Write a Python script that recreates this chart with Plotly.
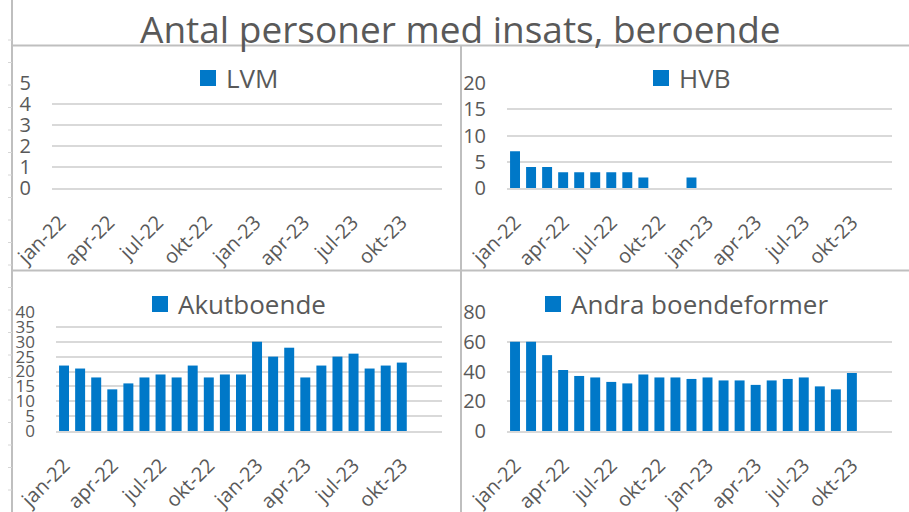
import plotly.graph_objects as go

W, H = 909, 512

months = ["jan-22", "feb-22", "mar-22", "apr-22", "maj-22", "jun-22", "jul-22", "aug-22",
          "sep-22", "okt-22", "nov-22", "dec-22", "jan-23", "feb-23", "mar-23", "apr-23",
          "maj-23", "jun-23", "jul-23", "aug-23", "sep-23", "okt-23", "nov-23", "dec-23"]
tick_labels = ["jan-22", "apr-22", "jul-22", "okt-22", "jan-23", "apr-23", "jul-23", "okt-23"]

lvm = [0] * 22
hvb = [7, 4, 4, 3, 3, 3, 3, 3, 2, 0, 0, 2, 0, 0, 0, 0, 0, 0, 0, 0, 0, 0]
akut = [22, 21, 18, 14, 16, 18, 19, 18, 22, 18, 19, 19, 30, 25, 28, 18, 22, 25, 26, 21, 22, 23]
andra = [60, 60, 51, 41, 37, 36, 33, 32, 38, 36, 36, 35, 36, 34, 34, 31, 34, 35, 36, 30, 28, 39]

title = "Antal personer med insats, beroende"
BLUE = "#0078c8"
TXT = "#595959"
GRID = "#d9d9d9"
FRAME = "#bfbfbf"

# panel definitions: name, values, y max, dtick, y tick font size, pixel box (x0,x1,ytop,ybottom)
panels = [
    ("LVM", lvm, 5, 1, 20, (52, 442, 83, 188)),
    ("HVB", hvb, 20, 5, 20, (507, 892, 83, 188)),
    ("Akutboende", akut, 40, 5, 17, (56, 442, 312, 431)),
    ("Andra boendeformer", andra, 80, 20, 20, (507, 892, 312, 431)),
]
legend_pos = [(200, 70), (653, 70), (152, 296), (545, 296)]

fig = go.Figure()
layout = {}
shapes = []
annotations = []
for i, (name, vals, ymax, dt, yfs, (x0, x1, yt, yb)) in enumerate(panels):
    k = "" if i == 0 else str(i + 1)
    fig.add_trace(go.Bar(x=months[:len(vals)], y=vals, marker=dict(color=BLUE, line=dict(width=0)),
                         xaxis="x" + k, yaxis="y" + k, showlegend=False, name=name))
    layout["xaxis" + k] = dict(
        domain=[x0 / W, x1 / W], anchor="y" + k, type="category",
        categoryorder="array", categoryarray=months, range=[-0.5, len(months) - 0.5],
        tickmode="array", tickvals=tick_labels, ticktext=tick_labels,
        tickangle=-45, tickfont=dict(family="Open Sans", size=20, color=TXT),
        showgrid=False, zeroline=False, showline=True, linecolor=GRID, linewidth=1.5,
        ticks="", ticklabelstandoff=13, automargin=False, fixedrange=True)
    layout["yaxis" + k] = dict(
        domain=[1 - yb / H, 1 - yt / H], anchor="x" + k, range=[0, ymax], dtick=dt,
        tickfont=dict(family="Open Sans", size=yfs, color=TXT), showgrid=True,
        gridcolor=GRID, gridwidth=1.5, zeroline=False, showline=False, ticks="",
        ticklabelstandoff=20, automargin=False, fixedrange=True)
    lx, ly = legend_pos[i]
    shapes.append(dict(type="rect", xref="paper", yref="paper", x0=lx / W, x1=(lx + 16) / W,
                       y0=1 - (ly + 16) / H, y1=1 - ly / H, fillcolor=BLUE, line=dict(width=0)))
    annotations.append(dict(text=name, xref="paper", yref="paper", x=(lx + 24) / W,
                            y=1 - (ly + 8) / H, xanchor="left", yanchor="middle", showarrow=False,
                            font=dict(family="Open Sans", size=26, color=TXT)))

# frame lines
def hline(y, xa, xb):
    shapes.append(dict(type="line", xref="paper", yref="paper", x0=xa / W, x1=xb / W,
                       y0=1 - y / H, y1=1 - y / H, line=dict(color=FRAME, width=2)))

def vline(x, ya, yb):
    shapes.append(dict(type="line", xref="paper", yref="paper", x0=x / W, x1=x / W,
                       y0=1 - ya / H, y1=1 - yb / H, line=dict(color=FRAME, width=2)))

vline(12, 0, H)
hline(45.5, 12, W)
vline(461, 45.5, H)
hline(270.5, 12, W)
r = 40
while r < H:
    shapes.append(dict(type="line", xref="paper", yref="paper", x0=8 / W, x1=12 / W,
                       y0=1 - r / H, y1=1 - r / H, line=dict(color="#d6d6d6", width=1)))
    r += 22.5

annotations.append(dict(text=title, xref="paper", yref="paper", x=461 / W, y=1 - 28 / H,
                        xanchor="center", yanchor="middle", showarrow=False,
                        font=dict(family="Open Sans", size=37, color=TXT)))

fig.update_layout(**layout)
fig.update_layout(width=W, height=H, margin=dict(l=0, r=0, t=0, b=0, autoexpand=False),
                  paper_bgcolor="white", plot_bgcolor="white", bargap=0.38,
                  shapes=shapes, annotations=annotations)
fig.write_html("out.html", config={"displayModeBar": False},
               post_script="document.body.style.margin='0';document.body.style.overflow='hidden';")
